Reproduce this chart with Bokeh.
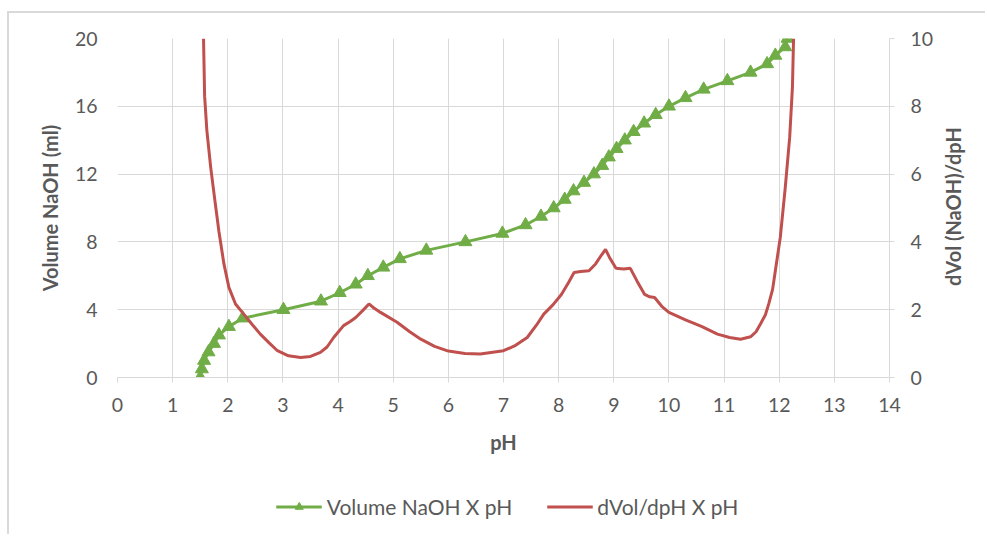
import math
from bokeh.plotting import figure
from bokeh.layouts import column, row
from bokeh.models import Range1d, LinearAxis, Legend, LegendItem, FixedTicker, Label
from bokeh.embed import file_html
from bokeh.resources import INLINE

# Volume NaOH (ml) vs pH  (left axis)
vol_ml = [0, 0.5, 1, 1.5, 2, 2.5, 3, 3.5, 4, 4.5, 5, 5.5, 6, 6.5, 7, 7.5, 8, 8.5, 9, 9.5,
          10, 10.5, 11, 11.5, 12, 12.5, 13, 13.5, 14, 14.5, 15, 15.5, 16, 16.5, 17, 17.5,
          18, 18.5, 19, 19.5, 20]
vol_ph = [1.50, 1.53, 1.57, 1.65, 1.75, 1.84, 2.02, 2.27, 3.01, 3.69, 4.03, 4.32, 4.54, 4.82,
          5.12, 5.60, 6.31, 6.98, 7.40, 7.68, 7.91, 8.11, 8.27, 8.46, 8.64, 8.79, 8.91, 9.05,
          9.20, 9.36, 9.55, 9.76, 10.00, 10.30, 10.63, 11.06, 11.48, 11.78, 11.93, 12.11, 12.15]

# dVol/dpH vs pH  (right axis)
deriv_ph = [1.56, 1.58, 1.62, 1.69, 1.76, 1.84, 1.93, 2.02, 2.14, 2.29, 2.45, 2.59, 2.75, 2.90,
            3.10, 3.32, 3.50, 3.68, 3.80, 3.92, 4.10, 4.22, 4.32, 4.45, 4.56, 4.65, 4.77,
            5.07, 5.30, 5.50, 5.75, 6.00, 6.30, 6.58, 7.00, 7.20, 7.43, 7.60, 7.73,
            7.90, 8.05, 8.18, 8.28, 8.40, 8.55, 8.67, 8.78, 8.85, 8.92, 9.04, 9.18, 9.30,
            9.42, 9.56, 9.65, 9.74, 9.87, 10.00, 10.30, 10.60, 10.88, 11.10, 11.30, 11.48,
            11.58, 11.66, 11.75, 11.81, 11.88, 11.93, 12.02, 12.11, 12.19, 12.24, 12.26]
deriv_val = [10.0, 8.3, 7.3, 6.2, 5.3, 4.3, 3.35, 2.66, 2.17, 1.87, 1.55, 1.28, 1.02, 0.79,
             0.64, 0.59, 0.62, 0.74, 0.90, 1.18, 1.53, 1.65, 1.77, 1.98, 2.17, 2.05, 1.92,
             1.63, 1.35, 1.13, 0.92, 0.78, 0.71, 0.69, 0.79, 0.93, 1.18, 1.55, 1.87,
             2.15, 2.45, 2.80, 3.10, 3.13, 3.15, 3.35, 3.62, 3.78, 3.55, 3.22, 3.20, 3.22,
             2.85, 2.45, 2.38, 2.36, 2.10, 1.92, 1.70, 1.50, 1.28, 1.18, 1.13, 1.20,
             1.35, 1.58, 1.85, 2.17, 2.60, 3.15, 4.14, 5.61, 7.09, 8.57, 10.0]

x_ticks = list(range(0, 15))
left_ticks = [0, 4, 8, 12, 16, 20]
right_ticks = [0, 2, 4, 6, 8, 10]

GREEN = "#70ad47"
RED = "#c0504d"
TXT = "#595959"
GRID = "#d9d9d9"
FONT = "Lato"

p = figure(width=931, height=470, output_backend="svg", toolbar_location=None,
           x_range=Range1d(0, 14), y_range=Range1d(0, 20),
           min_border_left=108, min_border_right=51, min_border_top=25, min_border_bottom=106)
p.outline_line_color = None
p.extra_y_ranges = {"right": Range1d(0, 10)}

p.xaxis.ticker = FixedTicker(ticks=x_ticks)
p.yaxis.ticker = FixedTicker(ticks=left_ticks)
p.xgrid.ticker = FixedTicker(ticks=x_ticks)
p.ygrid.ticker = FixedTicker(ticks=left_ticks)
p.grid.grid_line_color = GRID
p.grid.grid_line_width = 1

raxis = LinearAxis(y_range_name="right", ticker=FixedTicker(ticks=right_ticks))
p.add_layout(raxis, "right")

for ax in [p.xaxis[0], p.yaxis[0], raxis]:
    ax.major_label_text_font = FONT
    ax.major_label_text_font_size = "19.5px"
    ax.major_label_text_color = TXT
    ax.axis_label_text_font = FONT
    ax.axis_label_text_font_size = "20px"
    ax.axis_label_text_font_style = "bold"
    ax.axis_label_text_color = TXT
    ax.minor_tick_line_color = None
    ax.axis_line_color = GRID
    ax.major_tick_line_color = GRID
    ax.major_tick_in = 0
    ax.major_tick_out = 5

p.yaxis[0].axis_line_color = None
p.yaxis[0].major_tick_line_color = None
p.yaxis[0].major_tick_out = 0
p.yaxis[0].major_label_standoff = 20
p.yaxis[0].axis_label = "Volume NaOH (ml)"
p.yaxis[0].axis_label_standoff = 10

p.xaxis[0].axis_label = "pH"
p.xaxis[0].major_label_standoff = 15
p.xaxis[0].axis_label_standoff = 15

raxis.major_label_standoff = 16

p.line(vol_ph, vol_ml, line_color=GREEN, line_width=3)
p.scatter(vol_ph, vol_ml, marker="triangle", size=13, fill_color=GREEN, line_color=GREEN)
p.line(deriv_ph, deriv_val, line_color=RED, line_width=3, y_range_name="right")

# right axis title strip (text reads bottom-to-top like the reference)
pr = figure(width=47, height=470, output_backend="svg", toolbar_location=None,
            x_range=Range1d(0, 47), y_range=Range1d(0, 470),
            min_border_left=0, min_border_right=0, min_border_top=0, min_border_bottom=0)
pr.axis.visible = False
pr.grid.visible = False
pr.outline_line_color = None
pr.add_layout(Label(x=12, y=237, text="dVol (NaOH)/dpH", angle=math.pi / 2,
                    text_align="center", text_baseline="middle", text_font=FONT,
                    text_font_size="20px", text_font_style="bold", text_color=TXT))

# legend strip below the chart (sample renderers sit outside the visible range)
pl = figure(width=978, height=53, output_backend="svg", toolbar_location=None,
            x_range=Range1d(0, 1), y_range=Range1d(0, 1),
            min_border_left=18, min_border_right=0, min_border_top=0, min_border_bottom=7)
pl.axis.visible = False
pl.grid.visible = False
pl.outline_line_color = None
lg_line = pl.line([5, 6], [5, 6], line_color=GREEN, line_width=3)
lg_pts = pl.scatter([5], [5], marker="triangle", size=13, fill_color=GREEN, line_color=GREEN)
lr_line = pl.line([5, 6], [5, 6], line_color=RED, line_width=3)

legend = Legend(items=[LegendItem(label="Volume NaOH X pH", renderers=[lg_line, lg_pts]),
                       LegendItem(label="dVol/dpH X pH", renderers=[lr_line])],
                orientation="horizontal", location="center")
legend.border_line_color = None
legend.background_fill_alpha = 0
legend.padding = 0
legend.margin = 0
legend.spacing = 34
legend.label_standoff = 5
legend.glyph_width = 46
legend.glyph_height = 20
legend.label_text_font = FONT
legend.label_text_font_size = "21px"
legend.label_text_color = TXT
pl.add_layout(legend, "center")

layout = column(row(p, pr, spacing=0), pl, spacing=0)
layout.margin = (13, 0, 0, 9)
layout.styles = {"box-shadow": "-2px -2px 0 0 #d9d9d9"}

open("out.html", "w").write(file_html(layout, INLINE))
